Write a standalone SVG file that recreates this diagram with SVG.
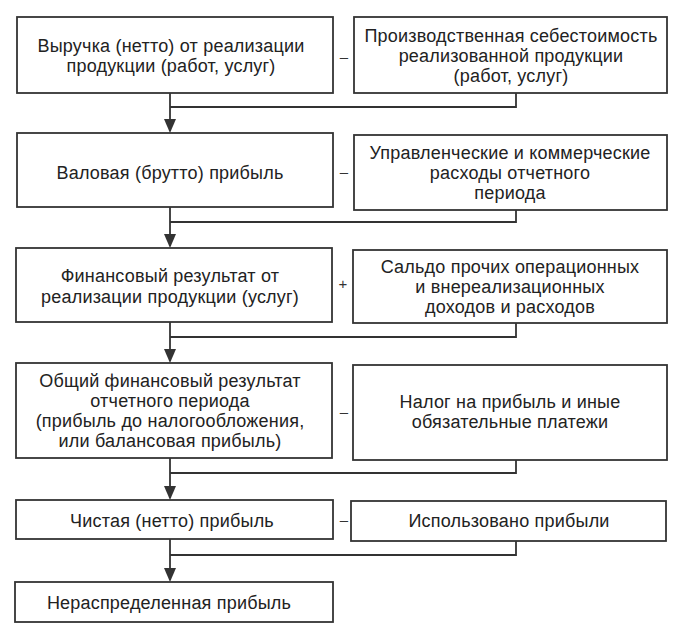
<svg xmlns="http://www.w3.org/2000/svg" width="688" height="635" viewBox="0 0 688 635">
<style>
.box{fill:#fff;stroke:#333;stroke-width:1.8}
.t{font-family:"Liberation Sans",Arial,sans-serif;font-size:18px;letter-spacing:0.2px;fill:#222;text-anchor:middle}
.op{font-family:"Liberation Sans",Arial,sans-serif;font-size:15px;fill:#333;text-anchor:middle}
.c{fill:none;stroke:#333;stroke-width:1.8}
.ah{fill:#333}
</style>
<rect width="688" height="635" fill="#fff"/>
<g id="connectors">
<path class="c" d="M170,93 V131"/>
<path class="c" d="M516,93 V107 H170"/>
<path class="c" d="M170,207 V246"/>
<path class="c" d="M516,210 V222 H170"/>
<path class="c" d="M170,322 V361"/>
<path class="c" d="M516,323 V337 H170"/>
<path class="c" d="M170,458 V498"/>
<path class="c" d="M516,460 V473 H170"/>
<path class="c" d="M170,539 V580"/>
<path class="c" d="M516,541 V555 H170"/>
<path class="ah" d="M164,119 L176,119 L170,133 Z"/>
<path class="ah" d="M164,234 L176,234 L170,248 Z"/>
<path class="ah" d="M164,349 L176,349 L170,363 Z"/>
<path class="ah" d="M164,486 L176,486 L170,500 Z"/>
<path class="ah" d="M164,568 L176,568 L170,582 Z"/>
<text class="op" x="344" y="62">–</text>
<text class="op" x="344" y="177">–</text>
<text class="op" x="343" y="289">+</text>
<text class="op" x="344" y="417">–</text>
<text class="op" x="344" y="525">–</text>
</g>
<g id="n1">
<rect class="box" x="17" y="17" width="316" height="76"/>
<text class="t" x="171" y="52">Выручка (нетто) от реализации</text>
<text class="t" x="171" y="72">продукции (работ, услуг)</text>
</g>
<g id="r1">
<rect class="box" x="354" y="17" width="313" height="76"/>
<text class="t" x="511" y="42">Производственная себестоимость</text>
<text class="t" x="511" y="62">реализованной продукции</text>
<text class="t" x="511" y="82">(работ, услуг)</text>
</g>
<g id="n2">
<rect class="box" x="17" y="133" width="316" height="74"/>
<text class="t" x="170" y="179">Валовая (брутто) прибыль</text>
</g>
<g id="r2">
<rect class="box" x="354" y="135" width="313" height="75"/>
<text class="t" x="510" y="159">Управленческие и коммерческие</text>
<text class="t" x="510" y="179">расходы отчетного</text>
<text class="t" x="510" y="199">периода</text>
</g>
<g id="n3">
<rect class="box" x="16" y="248" width="316" height="74"/>
<text class="t" x="170" y="282">Финансовый результат от</text>
<text class="t" x="170" y="303">реализации продукции (услуг)</text>
</g>
<g id="r3">
<rect class="box" x="353" y="250" width="314" height="73"/>
<text class="t" x="510" y="273">Сальдо прочих операционных</text>
<text class="t" x="510" y="293">и внереализационных</text>
<text class="t" x="510" y="313">доходов и расходов</text>
</g>
<g id="n4">
<rect class="box" x="16" y="363" width="316" height="95"/>
<text class="t" x="170" y="387">Общий финансовый результат</text>
<text class="t" x="170" y="407">отчетного периода</text>
<text class="t" x="170" y="427">(прибыль до налогообложения,</text>
<text class="t" x="170" y="447">или балансовая прибыль)</text>
</g>
<g id="r4">
<rect class="box" x="353" y="365" width="314" height="95"/>
<text class="t" x="510" y="408">Налог на прибыль и иные</text>
<text class="t" x="510" y="428">обязательные платежи</text>
</g>
<g id="n5">
<rect class="box" x="16" y="500" width="317" height="39"/>
<text class="t" x="172" y="527">Чистая (нетто) прибыль</text>
</g>
<g id="r5">
<rect class="box" x="351" y="501" width="315" height="40"/>
<text class="t" x="509" y="527">Использовано прибыли</text>
</g>
<g id="n6">
<rect class="box" x="15" y="582" width="318" height="40"/>
<text class="t" x="169" y="609">Нераспределенная прибыль</text>
</g>
</svg>
